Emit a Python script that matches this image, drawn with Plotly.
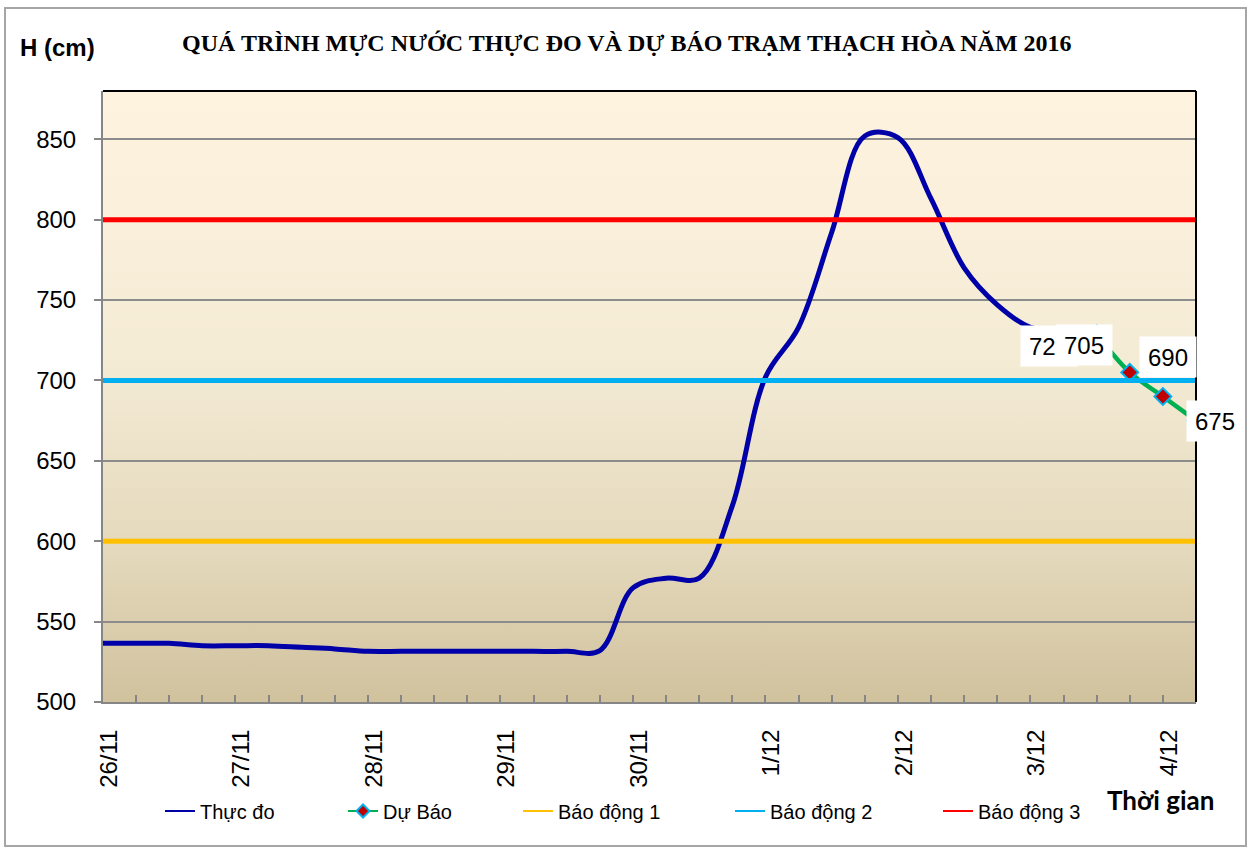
import base64
import pandas as pd
import plotly.graph_objects as go

# ---------------- data ----------------
# 6-hourly time steps from 26/11/2016 00h to 4/12/2016 06h
times = pd.date_range("2016-11-26 00:00", periods=34, freq="6h")

observed = [536.5, 536.5, 536.5, 535, 535, 535, 534, 533, 531.5, 531.5,
            531.5, 531.5, 531.5, 531.5, 531.5, 532, 571, 577, 577, 622,
            702, 733, 792, 852, 851, 813, 770, 747, 733, 731,
            729, None, None, None]
forecast = [None] * 30 + [729, 705, 690, 675]

alarm_levels = [600, 700, 800]
alarm_names = ["Báo động 1", "Báo động 2", "Báo động 3"]
alarm_colors = ["#FFC000", "#00B0F0", "#FF0000"]

title_text = "QUÁ TRÌNH MỰC NƯỚC THỰC ĐO VÀ DỰ BÁO TRẠM THẠCH HÒA NĂM 2016"
y_title = "H (cm)"
x_title = "Thời gian"

# ---------------- layout geometry ----------------
W, H = 1251, 848
L, R, T, B = 103, 1196, 91, 702
PW, PH = R - L, B - T


def px(xp):
    return (xp - L) / PW


def py(yp):
    return (B - yp) / PH


SANS = "Liberation Sans, Arial, sans-serif"
OBS_COLOR = "#0000A8"
FC_COLOR = "#00B050"
FC_MARKER = dict(symbol="diamond", color="#C00000", line=dict(color="#00B0F0", width=2))

fig = go.Figure()

fig.add_trace(go.Scatter(
    x=times, y=observed, name="Thực đo", mode="lines", showlegend=False,
    line=dict(color=OBS_COLOR, width=5, shape="spline", smoothing=1.0)))

fig.add_trace(go.Scatter(
    x=times, y=forecast, name="Dự Báo", mode="lines+markers", showlegend=False,
    line=dict(color=FC_COLOR, width=4.5, shape="spline", smoothing=1.0),
    marker=dict(size=13, **FC_MARKER)))

for lvl, nm, col in zip(alarm_levels, alarm_names, alarm_colors):
    fig.add_trace(go.Scatter(
        x=times, y=[lvl] * len(times), name=nm, mode="lines", showlegend=False,
        line=dict(color=col, width=5)))

# legend entries (thin lines as in the original legend)
legend_specs = [("Thực đo", OBS_COLOR, "lines", None)]
legend_specs.append(("Dự Báo", FC_COLOR, "lines+markers", dict(size=10, **FC_MARKER)))
legend_specs += [(nm, col, "lines", None) for nm, col in zip(alarm_names, alarm_colors)]

legend_text_starts = [200, 383, 558, 770, 978]
legend_layouts = {}
for i, ((nm, col, mode, mk), xs) in enumerate(zip(legend_specs, legend_text_starts)):
    key = "legend" if i == 0 else "legend%d" % (i + 1)
    legend_layouts[key] = dict(x=px(xs - 40), y=py(811), xanchor="left", yanchor="middle",
                               orientation="h", bgcolor="rgba(0,0,0,0)",
                               font=dict(family=SANS, size=20, color="black"))
    tr = dict(x=[None], y=[None], name=nm, mode=mode, legend=key, showlegend=True,
              line=dict(color=col, width=2), hoverinfo="skip")
    if mk:
        tr["marker"] = mk
    fig.add_trace(go.Scatter(**tr))

# data labels for the forecast points
label_offsets = {30: (-48, -12), 31: (-46, 27), 32: (5, 40), 33: (19, 0)}
for idx, (dx, dy) in label_offsets.items():
    v = forecast[idx]
    fig.add_annotation(x=times[idx], y=v, text="%d" % v, showarrow=False,
                       xanchor="center", yanchor="middle",
                       xshift=dx, yshift=dy, bgcolor="white", width=48, height=32,
                       borderpad=4, font=dict(family=SANS, size=24, color="black"))

# gradient plot background
svg = ('<svg xmlns="http://www.w3.org/2000/svg" width="100" height="100" preserveAspectRatio="none">'
       '<defs><linearGradient id="g" x1="0" y1="0" x2="0" y2="1">'
       '<stop offset="0" stop-color="#FEF3DF"/>'
       '<stop offset="0.45" stop-color="#F4EBD5"/>'
       '<stop offset="0.75" stop-color="#E4D9BC"/>'
       '<stop offset="1" stop-color="#D1C29E"/>'
       '</linearGradient></defs><rect width="100" height="100" fill="url(#g)"/></svg>')
src = "data:image/svg+xml;base64," + base64.b64encode(svg.encode()).decode()
fig.add_layout_image(source=src, xref="paper", yref="paper", x=0, y=1,
                     sizex=1, sizey=1, xanchor="left", yanchor="top",
                     sizing="stretch", layer="below")

# top and right black borders of plot area, outer chart border
fig.add_shape(type="line", xref="paper", yref="paper", x0=0, x1=1, y0=1, y1=1,
              line=dict(color="black", width=2))
fig.add_shape(type="line", xref="paper", yref="paper", x0=1, x1=1, y0=0, y1=1,
              line=dict(color="black", width=2))
fig.add_shape(type="rect", xref="paper", yref="paper", x0=px(5), x1=px(1246),
              y0=py(846), y1=py(8), line=dict(color="#A6A6A6", width=2),
              fillcolor="rgba(0,0,0,0)", layer="below")

# titles
fig.add_annotation(xref="paper", yref="paper", x=px(627), y=py(43), text="<b>%s</b>" % title_text,
                   showarrow=False, xanchor="center", yanchor="middle",
                   font=dict(family="Liberation Serif, Times New Roman, serif", size=24, color="black"))
fig.add_annotation(xref="paper", yref="paper", x=px(57), y=py(48), text="<b>%s</b>" % y_title,
                   showarrow=False, xanchor="center", yanchor="middle",
                   font=dict(family=SANS, size=24, color="black"))
fig.add_annotation(xref="paper", yref="paper", x=px(1160), y=py(800), text="<b>%s</b>" % x_title,
                   showarrow=False, xanchor="center", yanchor="middle",
                   font=dict(family="Lato, Open Sans, sans-serif", size=26, color="black"))

fig.update_layout(
    width=W, height=H, autosize=False,
    margin=dict(l=L, r=W - R, t=T, b=H - B, pad=0),
    paper_bgcolor="white", plot_bgcolor="rgba(0,0,0,0)",
    showlegend=True, hovermode=False,
    **legend_layouts,
    xaxis=dict(
        type="date", range=[times[0], times[-1]],
        tick0=times[0], dtick=86400000, tickformat="%-d/%-m",
        tickangle=-90, ticks="inside", ticklen=7, tickwidth=1.5, tickcolor="#868686",
        ticklabelstandoff=16, ticklabelshift=6,
        minor=dict(dtick=6 * 3600 * 1000, ticks="inside", ticklen=7, tickwidth=1.5,
                   tickcolor="#868686", showgrid=False),
        showgrid=False, zeroline=False,
        showline=True, linecolor="#868686", linewidth=2,
        tickfont=dict(family=SANS, size=24, color="black"),
    ),
    yaxis=dict(
        range=[500, 880], tick0=500, dtick=50,
        ticks="outside", ticklen=7, tickwidth=1.5, tickcolor="#868686",
        showgrid=True, gridcolor="#8C8C8C", gridwidth=1.5, zeroline=False,
        showline=True, linecolor="#868686", linewidth=2,
        ticklabelstandoff=13,
        tickfont=dict(family=SANS, size=24, color="black"),
    ),
)

fig.write_html("out.html", config={"displayModeBar": False},
               post_script="document.body.style.margin='0';document.body.style.overflow='hidden';")
